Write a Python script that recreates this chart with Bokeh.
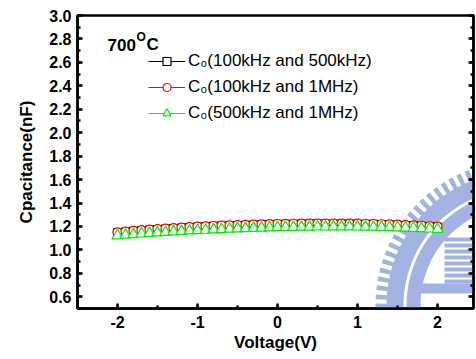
from bokeh.plotting import figure
from bokeh.models import (Range1d, SingleIntervalTicker, NumeralTickFormatter, LinearAxis,
                          Legend, LegendItem, Label, PolyAnnotation, CustomJSTickFormatter)
from bokeh.embed import file_html
from bokeh.resources import INLINE
import math

# Bias sweep (V)
voltage = [-2.0, -1.9, -1.8, -1.7, -1.6, -1.5, -1.4, -1.3, -1.2, -1.1, -1.0,
           -0.9, -0.8, -0.7, -0.6, -0.5, -0.4, -0.3, -0.2, -0.1, 0.0,
           0.1, 0.2, 0.3, 0.4, 0.5, 0.6, 0.7, 0.8, 0.9, 1.0,
           1.1, 1.2, 1.3, 1.4, 1.5, 1.6, 1.7, 1.8, 1.9, 2.0]

# Extracted capacitance C0 (nF) for each frequency pair
c0_100k_500k = [1.146, 1.152, 1.158, 1.164, 1.169, 1.174, 1.178, 1.182, 1.186, 1.190, 1.194,
                1.197, 1.200, 1.203, 1.206, 1.208, 1.210, 1.212, 1.214, 1.216, 1.217,
                1.218, 1.219, 1.220, 1.221, 1.221, 1.221, 1.221, 1.221, 1.220, 1.220,
                1.219, 1.217, 1.215, 1.213, 1.211, 1.208, 1.205, 1.202, 1.198, 1.194]
c0_100k_1M = [1.150, 1.156, 1.162, 1.168, 1.173, 1.178, 1.182, 1.186, 1.190, 1.194, 1.198,
              1.201, 1.204, 1.207, 1.210, 1.212, 1.214, 1.216, 1.218, 1.220, 1.221,
              1.222, 1.223, 1.224, 1.225, 1.225, 1.225, 1.225, 1.225, 1.224, 1.224,
              1.223, 1.221, 1.219, 1.217, 1.215, 1.212, 1.209, 1.206, 1.202, 1.198]
c0_500k_1M = [1.122, 1.127, 1.132, 1.137, 1.142, 1.147, 1.151, 1.155, 1.159, 1.163, 1.166,
              1.169, 1.172, 1.175, 1.178, 1.181, 1.183, 1.185, 1.187, 1.189, 1.191,
              1.193, 1.194, 1.195, 1.196, 1.197, 1.197, 1.198, 1.198, 1.198, 1.197,
              1.196, 1.195, 1.194, 1.192, 1.190, 1.188, 1.186, 1.183, 1.180, 1.176]

series_labels = ["C\u2080(100kHz and 500kHz)", "C\u2080(100kHz and 1MHz)", "C\u2080(500kHz and 1MHz)"]
series_colors = ["#000000", "#ff0000", "#00ee00"]
series_markers = ["square", "circle", "triangle"]
series_sizes = [8, 9, 11]

FONT = "Liberation Sans"
W, H = 476, 359
LEFT, RIGHT, TOP, BOTTOM = 77, 3, 15, 51
X0, X1, Y0, Y1 = -2.5, 2.45, 0.5, 3.0

p = figure(width=W, height=H, output_backend="svg", toolbar_location=None,
           x_range=Range1d(X0, X1), y_range=Range1d(Y0, Y1),
           min_border_left=LEFT, min_border_right=RIGHT,
           min_border_top=TOP, min_border_bottom=BOTTOM,
           background_fill_color="white", border_fill_color="white")
p.grid.visible = False
p.outline_line_color = "black"
p.outline_line_width = 2.5

fw, fh = W - LEFT - RIGHT, H - TOP - BOTTOM


def px_x(px):
    return X0 + (px - LEFT) / fw * (X1 - X0)


def px_y(py):
    return Y0 + (TOP + fh - py) / fh * (Y1 - Y0)


# faint university seal in the lower right corner (laid out in pixel space)
seal_blue = "#a2b3e3"
SCX, SCY = 520, 305


def sector(r_in, r_out, a0, a1, n=24):
    pts = []
    for i in range(n + 1):
        a = math.radians(a0 + (a1 - a0) * i / n)
        pts.append((SCX + r_out * math.cos(a), SCY - r_out * math.sin(a)))
    for i in range(n + 1):
        a = math.radians(a1 - (a1 - a0) * i / n)
        pts.append((SCX + r_in * math.cos(a), SCY - r_in * math.sin(a)))
    return pts


def rect(x0, y0, x1, y1):
    return [(x0, y0), (x1, y0), (x1, y1), (x0, y1)]


shapes = []
a = 100.0
while a < 200:
    shapes.append(sector(133, 145, a, a + 1.9, n=2))
    a += 3.6
shapes.append(sector(117, 134, 95, 200))
shapes.append(sector(100, 114, 95, 200))
shapes.append(rect(416, 283, 480, 293))
for i in range(8):
    shapes.append(rect(444, 237 + 6 * i, 480, 241 + 6 * i))

for pts in shapes:
    p.add_layout(PolyAnnotation(xs=[px_x(u) for u, _ in pts], ys=[px_y(v) for _, v in pts],
                                fill_color=seal_blue, fill_alpha=1.0, line_color=None,
                                level="underlay"))

items = []
for ys, lab, col, mk, sz in zip([c0_100k_500k, c0_100k_1M, c0_500k_1M], series_labels,
                                series_colors, series_markers, series_sizes):
    ln = p.line(voltage, ys, line_color=col, line_width=1)
    sc = p.scatter(voltage, ys, marker=mk, size=sz, line_color=col, line_width=1.2,
                   fill_color="white")
    items.append(LegendItem(label=lab, renderers=[ln, sc]))

legend = Legend(items=items, location=(71, 185), orientation="vertical",
                glyph_width=37, glyph_height=20, label_height=20, label_standoff=3,
                spacing=6, padding=0, margin=0, border_line_color=None,
                background_fill_alpha=0, label_text_font=FONT,
                label_text_font_size="17px", label_text_color="black")
p.add_layout(legend)

# temperature heading with superscript "o"
for txt, xx, yy, size in [("700", 107, 44, "17px"), ("O", 136, 36, "12px"), ("C", 146, 44, "17px")]:
    p.add_layout(Label(x=px_x(xx), y=px_y(yy), text=txt, text_font=FONT,
                       text_font_style="bold", text_font_size=size,
                       text_baseline="alphabetic", text_color="black"))

xax, yax = p.xaxis[0], p.yaxis[0]
xax.ticker = SingleIntervalTicker(interval=1, num_minor_ticks=2)
yax.ticker = SingleIntervalTicker(interval=0.2, num_minor_ticks=2)
xax.formatter = NumeralTickFormatter(format="0")
yax.formatter = NumeralTickFormatter(format="0.0")
xax.axis_label = "Voltage(V)"
yax.axis_label = "Cpacitance(nF)"
for ax in (xax, yax):
    ax.axis_line_width = 2.5
    ax.axis_line_color = "black"
    ax.major_tick_line_color = "black"
    ax.minor_tick_line_color = "black"
    ax.major_tick_in, ax.major_tick_out = 5, 0
    ax.minor_tick_in, ax.minor_tick_out = 3, 0
    ax.major_tick_line_width = 2.5
    ax.minor_tick_line_width = 2.5
    ax.major_label_text_font = FONT
    ax.major_label_text_font_style = "bold"
    ax.major_label_text_font_size = "16px"
    ax.major_label_text_color = "black"
    ax.axis_label_text_font = FONT
    ax.axis_label_text_font_style = "bold"
    ax.axis_label_text_font_size = "17px"
    ax.axis_label_text_color = "black"
xax.major_label_standoff = 7
yax.major_label_standoff = 6
xax.axis_label_standoff = 2
yax.axis_label_standoff = 10

# right-hand frame edge carries inward ticks only
right_ax = LinearAxis(ticker=SingleIntervalTicker(interval=0.2, num_minor_ticks=2),
                      formatter=CustomJSTickFormatter(code="return ''"),
                      major_label_text_color=None, axis_line_width=2.5, axis_line_color="black",
                      major_tick_in=5, major_tick_out=0, minor_tick_in=3, minor_tick_out=0,
                      major_tick_line_width=2.5, minor_tick_line_width=2.5,
                      major_tick_line_color="black", minor_tick_line_color="black",
                      major_label_standoff=0)
p.add_layout(right_ax, "right")

open("out.html", "w").write(file_html(p, INLINE))
